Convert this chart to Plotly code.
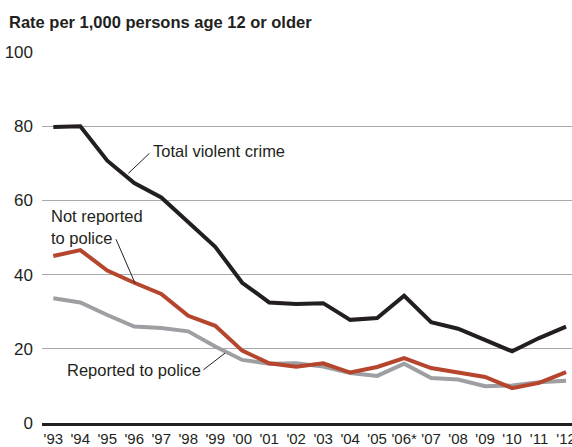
import plotly.graph_objects as go

years = ["'93", "'94", "'95", "'96", "'97", "'98", "'99", "'00", "'01", "'02",
         "'03", "'04", "'05", "'06*", "'07", "'08", "'09", "'10", "'11", "'12"]
total_violent = [79.8, 80.0, 70.7, 64.7, 60.8, 54.0, 47.5, 37.8, 32.5, 32.1,
                 32.3, 27.8, 28.3, 34.3, 27.2, 25.4, 22.4, 19.3, 22.9, 26.0]
not_reported = [45.0, 46.6, 41.1, 37.8, 34.8, 28.9, 26.2, 19.5, 16.1, 15.2,
                16.1, 13.6, 15.1, 17.5, 14.8, 13.5, 12.4, 9.4, 10.8, 13.7]
reported = [33.6, 32.5, 29.1, 26.0, 25.6, 24.7, 20.6, 17.0, 16.0, 16.1,
            15.2, 13.5, 12.7, 16.0, 12.1, 11.7, 9.9, 10.1, 11.0, 11.4]
y_ticks = [0, 20, 40, 60, 80, 100]

FONT = "Liberation Sans, Arial, sans-serif"
TXT = "#231f20"
xs = list(range(len(years)))

fig = go.Figure()
fig.add_trace(go.Scatter(x=xs, y=reported, mode="lines",
                         line=dict(color="#9d9fa2", width=4), name="Reported"))
fig.add_trace(go.Scatter(x=xs, y=not_reported, mode="lines",
                         line=dict(color="#b5452d", width=4), name="Not reported"))
fig.add_trace(go.Scatter(x=xs, y=total_violent, mode="lines",
                         line=dict(color=TXT, width=4), name="Total"))

def ann(text, x, y, **kw):
    fig.add_annotation(text=text, x=x, y=y, xref="x", yref="y", showarrow=False,
                       xanchor="left", yanchor="middle",
                       font=dict(family=FONT, size=16.5, color=TXT), **kw)

ann("Total violent crime", 3.62, 73.3)
ann("Not reported", -0.16, 55.9)
ann("to police", -0.16, 49.9)
ann("Reported to police", 0.44, 14.3)

for (x0, y0, x1, y1) in [(3.558, 72.66, 2.779, 67.28),
                         (2.324, 49.52, 3.028, 37.68),
                         (5.56, 14.34, 6.364, 18.84)]:
    fig.add_shape(type="line", x0=x0, y0=y0, x1=x1, y1=y1, xref="x", yref="y",
                  line=dict(color=TXT, width=1))

fig.add_annotation(text="<b>Rate per 1,000 persons age 12 or older</b>",
                   xref="paper", yref="paper", x=-0.066, y=1.082,
                   xanchor="left", yanchor="middle", showarrow=False,
                   font=dict(family=FONT, size=16.5, color=TXT))

fig.update_layout(
    width=572, height=447,
    margin=dict(l=42, r=0, t=52, b=24),
    paper_bgcolor="white", plot_bgcolor="white",
    showlegend=False,
    font=dict(family=FONT, size=16, color=TXT),
    xaxis=dict(range=[-0.419, 19.22], tickmode="array", tickvals=xs, ticktext=years,
               showgrid=False, zeroline=False, showline=True, linecolor=TXT,
               linewidth=3, ticks="", tickangle=0, automargin=False,
               ticklabeloverflow="allow",
               tickfont=dict(family=FONT, size=15, color=TXT),
               fixedrange=True),
    yaxis=dict(range=[0, 100], tickmode="array", tickvals=y_ticks,
               showgrid=True, gridcolor="#a7a9ac", gridwidth=1, zeroline=False,
               ticks="", ticklabelstandoff=8, automargin=False,
               tickfont=dict(family=FONT, size=17, color=TXT), fixedrange=True),
)

fig.write_html("out.html", config={"displayModeBar": False},
               post_script="document.body.style.margin='0px';document.body.style.overflow='hidden';")
